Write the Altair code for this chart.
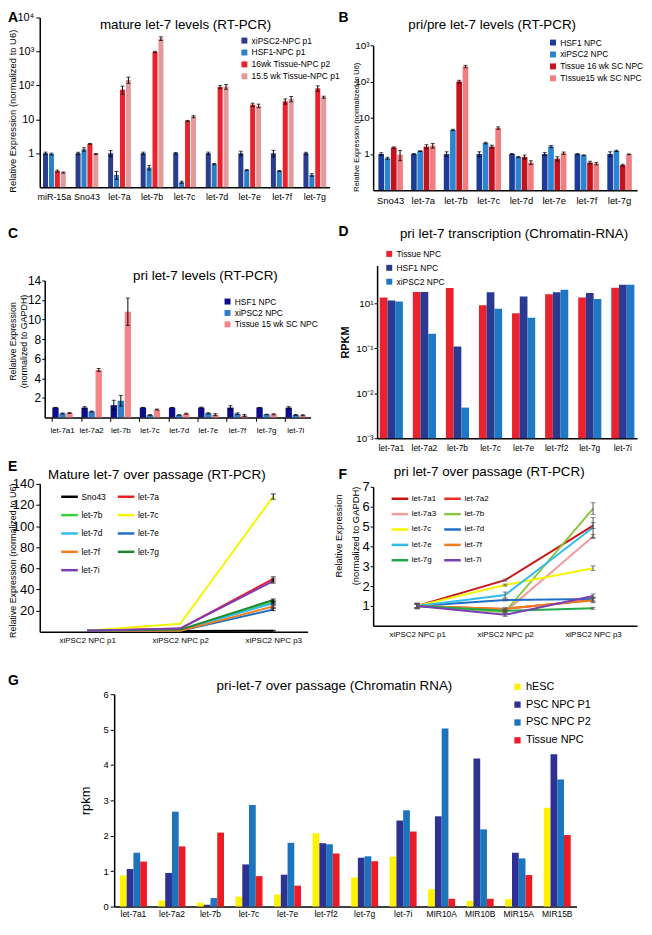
import altair as alt
import pandas as pd

FONT = "Liberation Sans"
ONE = pd.DataFrame({"k": [0]})
W, H = 634, 917  # whole drawing area; every panel is placed inside it by its scale ranges

# ---------------- Panel A : mature let-7 levels ----------------
A_CATS = ["miR-15a", "Sno43", "let-7a", "let-7b", "let-7c", "let-7d", "let-7e", "let-7f", "let-7g"]
A_SERIES = ["xiPSC2-NPC p1", "HSF1-NPC p1", "16wk Tissue-NPC p2", "15.5 wk Tissue-NPC p1"]
A_COLORS = ["#2b3d8f", "#2a7fc9", "#e8232d", "#e39a9b"]
A_XIPSC = [1.0, 1.0, 1.0, 1.0, 1.0, 1.0, 1.0, 1.0, 1.0]
A_HSF1 = [0.95, 1.3, 0.23, 0.38, 0.14, 0.48, 0.32, 0.30, 0.23]
A_16WK = [0.30, 1.9, 75, 970, 9.0, 90, 27, 34, 82]
A_155WK = [0.27, 0.95, 145, 2400, 12, 92, 25, 40, 45]
A_ERR_XIPSC = [0.08, 0.07, 0.2, 0.08, 0.05, 0.08, 0.15, 0.22, 0.07]
A_ERR_HSF1 = [0.06, 0.15, 0.06, 0.06, 0.01, 0.02, 0.01, 0.01, 0.02]
A_ERR_16WK = [0.02, 0.05, 20, 40, 0.3, 10, 3, 6, 15]
A_ERR_155WK = [0.01, 0.03, 30, 300, 0.8, 15, 3, 7, 3]
A_TICKS = [1, 10, 100, 1000, 10000]
A_TICK_LABELS = ["1", "10", "10²", "10³", "10⁴"]

# ---------------- Panel B : pri/pre let-7 levels ----------------
B_CATS = ["Sno43", "let-7a", "let-7b", "let-7c", "let-7d", "let-7e", "let-7f", "let-7g"]
B_SERIES = ["HSF1 NPC", "xiPSC2 NPC", "Tissue 16 wk SC NPC", "TIssue15 wk SC NPC"]
B_COLORS = ["#1d3c9a", "#2b85d3", "#c4121f", "#f27d80"]
B_HSF1 = [1.0, 1.0, 1.0, 1.0, 1.0, 1.0, 1.0, 1.0]
B_XIPSC = [0.76, 1.2, 4.6, 2.0, 0.82, 1.6, 0.92, 1.22]
B_T16 = [1.5, 1.6, 100, 1.6, 0.83, 0.74, 0.58, 0.49]
B_T15 = [0.95, 1.7, 260, 5.2, 0.58, 1.05, 0.54, 0.98]
B_ERR_HSF1 = [0.08, 0.02, 0.15, 0.15, 0.02, 0.1, 0.02, 0.15]
B_ERR_XIPSC = [0.05, 0.03, 0.2, 0.1, 0.03, 0.1, 0.02, 0.05]
B_ERR_T16 = [0.07, 0.2, 8, 0.15, 0.1, 0.1, 0.05, 0.03]
B_ERR_T15 = [0.3, 0.25, 20, 0.4, 0.07, 0.08, 0.04, 0.02]
B_TICKS = [1, 10, 100, 1000]
B_TICK_LABELS = ["1", "10", "10²", "10³"]

# ---------------- Panel C : pri let-7 levels ----------------
C_CATS = ["let-7a1", "let-7a2", "let-7b", "let-7c", "let-7d", "let-7e", "let-7f", "let-7g", "let-7i"]
C_SERIES = ["HSF1 NPC", "xiPSC2 NPC", "Tissue 15 wk SC NPC"]
C_COLORS = ["#0d0d8a", "#2f7dc6", "#f38487"]
C_HSF1 = [1.0, 1.0, 1.25, 1.0, 1.0, 1.0, 1.0, 1.0, 1.0]
C_XIPSC = [0.4, 0.6, 1.7, 0.25, 0.25, 0.42, 0.38, 0.3, 0.25]
C_T15 = [0.45, 4.85, 10.8, 0.8, 0.38, 0.28, 0.2, 0.32, 0.22]
C_ERR_HSF1 = [0.02, 0.1, 0.5, 0.02, 0.02, 0.05, 0.2, 0.02, 0.1]
C_ERR_XIPSC = [0.05, 0.05, 0.55, 0.03, 0.02, 0.05, 0.08, 0.02, 0.05]
C_ERR_T15 = [0.05, 0.15, 1.4, 0.05, 0.05, 0.1, 0.1, 0.05, 0.05]
C_TICKS = [2, 4, 6, 8, 10, 12, 14]

# ---------------- Panel D : pri let-7 transcription ----------------
D_CATS = ["let-7a1", "let-7a2", "let-7b", "let-7c", "let-7e", "let-7f2", "let-7g", "let-7i"]
D_SERIES = ["Tissue NPC", "HSF1 NPC", "xiPSC2 NPC"]
D_COLORS = ["#e8232d", "#2b3990", "#1f78c4"]
D_TISSUE = [1.34, 1.78, 2.18, 0.9, 0.6, 1.59, 1.34, 2.23]
D_HSF1 = [1.15, 1.78, 0.11, 1.75, 1.41, 1.75, 1.7, 2.6]
D_XIPSC = [1.1, 0.21, 0.0048, 0.76, 0.48, 2.0, 1.25, 2.6]
D_TICKS = [0.001, 0.01, 0.1, 1]
D_TICK_LABELS = ["10⁻³", "10⁻²", "10⁻¹", "10¹"]

# ---------------- Panel E : mature let-7 over passage ----------------
PASSES = ["xiPSC2 NPC p1", "xiPSC2 NPC p2", "xiPSC2 NPC p3"]
E_SERIES = ["Sno43", "let-7a", "let-7b", "let-7c", "let-7d", "let-7e", "let-7f", "let-7g", "let-7i"]
E_COLORS = ["#000000", "#ee1c24", "#3bcf3b", "#f5f500", "#33bbee", "#1f6fc4", "#f07d1e", "#1b8a2e", "#7b3fb5"]
E_VALUES = [
    [1, 0.6, 1],
    [1, 3, 50],
    [1, 1.5, 28],
    [1, 7.5, 128],
    [1, 1.5, 27],
    [1, 1, 21],
    [1, 0.8, 24],
    [1, 2, 30],
    [1, 3, 48],
]
E_ERR_P3 = [0.3, 2, 1, 2.5, 1, 1, 1, 1, 2]
E_TICKS = [20, 40, 60, 80, 100, 120, 140]

# ---------------- Panel F : pri let-7 over passage ----------------
F_SERIES = ["let-7a1", "let-7a2", "let-7a3", "let-7b", "let-7c", "let-7d", "let-7e", "let-7f", "let-7g", "let-7i"]
F_COLORS = ["#c81414", "#ee2b2b", "#f29b9b", "#8cc63f", "#f5f500", "#1f6fc4", "#33bbee", "#f07d1e", "#22aa4a", "#7b3fb5"]
F_VALUES = [
    [1, 2.3, 5.05],
    [1, 0.85, 1.3],
    [1, 0.7, 4.5],
    [1, 0.7, 5.9],
    [1, 2.05, 2.9],
    [1, 1.3, 1.35],
    [1, 1.55, 4.95],
    [1, 0.85, 1.28],
    [1, 0.75, 0.88],
    [1, 0.55, 1.5],
]
F_ERR = [
    [0.12, 0.05, 0.15],
    [0.1, 0.05, 0.1],
    [0.15, 0.05, 0.1],
    [0.1, 0.05, 0.3],
    [0.1, 0.05, 0.12],
    [0.1, 0.05, 0.1],
    [0.1, 0.15, 0.5],
    [0.1, 0.05, 0.12],
    [0.1, 0.05, 0.05],
    [0.1, 0.08, 0.1],
]
F_TICKS = [1, 2, 3, 4, 5, 6, 7]

# ---------------- Panel G : pri-let-7 over passage (Chromatin RNA) ----------------
G_CATS = ["let-7a1", "let-7a2", "let-7b", "let-7c", "let-7e", "let-7f2", "let-7g", "let-7i",
          "MIR10A", "MIR10B", "MIR15A", "MIR15B"]
G_SERIES = ["hESC", "PSC NPC P1", "PSC NPC P2", "Tissue NPC"]
G_COLORS = ["#fff200", "#2e3192", "#1c75bc", "#ed1c24"]
G_HESC = [0.88, 0.17, 0.11, 0.28, 0.34, 2.07, 0.82, 1.41, 0.49, 0.16, 0.21, 2.79]
G_P1 = [1.06, 0.95, 0.05, 1.19, 0.9, 1.79, 1.38, 2.43, 2.55, 4.18, 1.52, 4.3]
G_P2 = [1.52, 2.68, 0.24, 2.87, 1.8, 1.76, 1.42, 2.72, 5.03, 2.18, 1.36, 3.59]
G_TISSUE = [1.27, 1.7, 2.09, 0.86, 0.59, 1.5, 1.28, 2.12, 0.22, 0.22, 0.89, 2.02]
G_TICKS = [0, 1, 2, 3, 4, 5, 6]


# ---------------- helpers ----------------
def label_expr(vals, labels):
    parts = [f"abs(datum.value - {v}) < {v / 1000.0 + 1e-9} ? '{l}'" for v, l in zip(vals, labels)]
    return " : ".join(parts) + " : ''"


def bar_df(cats, series, values, errs=None):
    rows = []
    for i, s in enumerate(series):
        for j, c in enumerate(cats):
            v = values[i][j]
            e = errs[i][j] if errs else 0.0
            rows.append({"cat": c, "series": s, "value": v, "lo": v - e, "hi": v + e})
    return pd.DataFrame(rows)


def line_df(series, values, errs):
    rows = []
    for i, s in enumerate(series):
        for j, p in enumerate(PASSES):
            v = values[i][j]
            e = errs[i][j]
            rows.append({"pass": p, "series": s, "value": v, "lo": v - e, "hi": v + e, "err": e})
    return pd.DataFrame(rows)


def annot(text, x, y, size, weight="normal", align="center", baseline="middle"):
    return alt.Chart(ONE).mark_text(
        text=text, font=FONT, fontSize=size, fontWeight=weight, align=align,
        baseline=baseline, color="black"
    ).encode(x=alt.value(x), y=alt.value(y))


def letter(t, x, y):
    return annot(t, x, y, 14, "bold", "left", "top")


def sq_legend(x, y, font=8.5, row_pad=2, sym=36):
    return alt.Legend(title=None, orient="none", legendX=x, legendY=y, symbolType="square",
                      symbolSize=sym, symbolStrokeWidth=0, labelFontSize=font, labelFont=FONT,
                      rowPadding=row_pad, labelLimit=300, padding=0, labelOffset=3)


def line_legend(x, y, font, row_pad, col_pad):
    return alt.Legend(title=None, orient="none", legendX=x, legendY=y, columns=2,
                      symbolType="stroke", symbolSize=280, symbolStrokeWidth=2.5,
                      labelFontSize=font, labelFont=FONT, rowPadding=row_pad,
                      columnPadding=col_pad, padding=0, labelOffset=2)


def y_axis(x0, title, title_x, title_y, values, label_size=12, title_size=9.5, lexpr=None,
           title_weight="normal", line_height=13, tick_size=4, label_pad=2):
    kw = dict(orient="left", offset=-x0, values=values, title=title, titleFontSize=title_size,
              titleFontWeight=title_weight, titleFont=FONT, titleX=title_x, titleY=title_y,
              titleAngle=-90, titleAlign="center", titleBaseline="middle",
              titleLineHeight=line_height, labelFontSize=label_size, labelFont=FONT,
              tickSize=tick_size, domainWidth=1.5, labelPadding=label_pad, grid=False)
    if lexpr:
        kw["labelExpr"] = lexpr
    return alt.Axis(**kw)


def x_axis(y_bottom, label_size, ticks=False, pad=5):
    return alt.Axis(orient="bottom", offset=y_bottom - H, labelAngle=0, labelFontSize=label_size,
                    labelFont=FONT, ticks=ticks, bandPosition=0, tickSize=4, domainWidth=1.5,
                    labelPadding=pad, title=None, grid=False)


def bar_panel(df, cats, series, colors, xr, yscale, yaxis, legend, y_bottom,
              x_pi=0.3, x_po=0.15, x_align=0.5, off_pi=0.1, base=None, err=True,
              xlabel_size=9, xticks=False, xpad=5):
    xenc = alt.X("cat:N", sort=cats, axis=x_axis(y_bottom, xlabel_size, xticks, xpad),
                 scale=alt.Scale(range=list(xr), paddingInner=x_pi, paddingOuter=x_po,
                                 align=x_align))
    off = alt.XOffset("series:N", sort=series, scale=alt.Scale(paddingInner=off_pi))
    color = alt.Color("series:N", sort=series, legend=legend,
                      scale=alt.Scale(domain=series, range=colors))
    enc = dict(x=xenc, xOffset=off, y=alt.Y("value:Q", scale=yscale, axis=yaxis), color=color)
    if base is not None:
        enc["y2"] = alt.datum(base)
    layers = [alt.Chart(df).mark_bar().encode(**enc)]
    if err:
        edf = df[df["hi"] > df["lo"]]
        layers.append(alt.Chart(edf).mark_rule(color="black", strokeWidth=1).encode(
            x=xenc, xOffset=off, y=alt.Y("lo:Q", scale=yscale, axis=yaxis), y2="hi:Q"))
        layers.append(alt.Chart(edf).mark_tick(color="black", thickness=1, size=4).encode(
            x=xenc, xOffset=off, y=alt.Y("hi:Q", scale=yscale, axis=yaxis)))
        layers.append(alt.Chart(edf).mark_tick(color="black", thickness=1, size=4).encode(
            x=xenc, xOffset=off, y=alt.Y("lo:Q", scale=yscale, axis=yaxis)))
    return alt.layer(*layers)


def col_major(items):
    # a two-column legend fills its columns top to bottom; this order shows the entries row by row
    return items[0::2] + items[1::2]


def line_panel(df, series, colors, xr, yscale, yaxis, legend, y_bottom, pad, align, err_color):
    xenc = alt.X("pass:N", sort=PASSES,
                 scale=alt.Scale(type="point", range=list(xr), padding=pad, align=align),
                 axis=x_axis(y_bottom, 8))
    color = alt.Color("series:N", legend=legend,
                      scale=alt.Scale(domain=col_major(series), range=col_major(colors)))
    lines = alt.Chart(df).mark_line(strokeWidth=2).encode(
        x=xenc, y=alt.Y("value:Q", scale=yscale, axis=yaxis), color=color)
    edf = df[df["err"] > 0]
    rules = alt.Chart(edf).mark_rule(color=err_color, strokeWidth=1).encode(
        x=xenc, y=alt.Y("lo:Q", scale=yscale, axis=yaxis), y2="hi:Q")
    caps_hi = alt.Chart(edf).mark_tick(color=err_color, thickness=1, size=5).encode(
        x=xenc, y=alt.Y("hi:Q", scale=yscale, axis=yaxis))
    caps_lo = alt.Chart(edf).mark_tick(color=err_color, thickness=1, size=5).encode(
        x=xenc, y=alt.Y("lo:Q", scale=yscale, axis=yaxis))
    return alt.layer(lines, rules, caps_hi, caps_lo)


# ---------------- panels (pixel boxes inside the drawing area) ----------------
# A
A_X, A_Y = (32, 324), (177, 6)
dfA = bar_df(A_CATS, A_SERIES, [A_XIPSC, A_HSF1, A_16WK, A_155WK],
             [A_ERR_XIPSC, A_ERR_HSF1, A_ERR_16WK, A_ERR_155WK])
panelA = bar_panel(
    dfA, A_CATS, A_SERIES, A_COLORS, A_X,
    alt.Scale(type="log", domain=[0.1, 10000], nice=False, range=list(A_Y)),
    y_axis(A_X[0], "Relative Expression (normalized to U6)", -27, 100, A_TICKS, label_size=11,
           lexpr=label_expr(A_TICKS, A_TICK_LABELS)),
    sq_legend(234, 25, font=8.5, row_pad=3), A_Y[0],
    x_pi=0.3, x_po=0.1, off_pi=0.15, base=0.1, xlabel_size=9)

# B
B_X, B_Y = (368, 634), (180, 34)
dfB = bar_df(B_CATS, B_SERIES, [B_HSF1, B_XIPSC, B_T16, B_T15],
             [B_ERR_HSF1, B_ERR_XIPSC, B_ERR_T16, B_ERR_T15])
panelB = bar_panel(
    dfB, B_CATS, B_SERIES, B_COLORS, B_X,
    alt.Scale(type="log", domain=[0.1, 1000], nice=False, range=list(B_Y)),
    y_axis(B_X[0], "Relative Expression (normalized to U6)", -17, 116, B_TICKS, label_size=10,
           title_size=7.5, lexpr=label_expr(B_TICKS, B_TICK_LABELS), tick_size=3, label_pad=1),
    sq_legend(545, 27, font=8.5, row_pad=3), B_Y[0],
    x_pi=0.25, x_po=0.16, off_pi=0.1, base=0.1, xlabel_size=9.5)

# C
C_X, C_Y = (37, 305), (409, 271)
dfC = bar_df(C_CATS, C_SERIES, [C_HSF1, C_XIPSC, C_T15], [C_ERR_HSF1, C_ERR_XIPSC, C_ERR_T15])
panelC = bar_panel(
    dfC, C_CATS, C_SERIES, C_COLORS, C_X,
    alt.Scale(domain=[0, 14], nice=False, zero=True, range=list(C_Y)),
    y_axis(C_X[0], ["Relative Expression", "(normalized to GAPDH)"], -32, 332, C_TICKS,
           label_size=12, title_size=9, line_height=11, tick_size=3, label_pad=1),
    sq_legend(217, 288, font=8.5, row_pad=2.5), C_Y[0],
    x_pi=0.3, x_po=0.21, x_align=0.62, off_pi=0.1, xlabel_size=8, xticks=True)

# D
D_X, D_Y = (372, 634), (430, 256)
dfD = bar_df(D_CATS, D_SERIES, [D_TISSUE, D_HSF1, D_XIPSC])
panelD = bar_panel(
    dfD, D_CATS, D_SERIES, D_COLORS, D_X,
    alt.Scale(type="log", domain=[0.001, 6.9], nice=False, range=list(D_Y)),
    y_axis(D_X[0], "RPKM", -32, 333, D_TICKS, label_size=10, title_size=11,
           title_weight="bold", lexpr=label_expr(D_TICKS, D_TICK_LABELS), tick_size=3,
           label_pad=1),
    sq_legend(380, 240, font=8.5, row_pad=5), D_Y[0],
    x_pi=0.3, x_po=0.08, off_pi=0.0, base=0.001, err=False, xlabel_size=8.5)

# E
E_X, E_Y = (32, 302), (625, 476)
E_ERRS = [[0, 0, e] for e in E_ERR_P3]
dfE = line_df(E_SERIES, E_VALUES, E_ERRS)
panelE = line_panel(
    dfE, E_SERIES, E_COLORS, E_X,
    alt.Scale(domain=[0, 140], nice=False, zero=True, range=list(E_Y)),
    y_axis(E_X[0], "Relative Expression (normalized to U6)", -27, 553, E_TICKS, label_size=13,
           title_size=9),
    line_legend(52, 479, 8.5, 3.5, 6), E_Y[0], 0.44, 0.58, "black")

# F
F_X, F_Y = (368, 634), (619, 479)
dfF = line_df(F_SERIES, F_VALUES, F_ERR)
panelF = line_panel(
    dfF, F_SERIES, F_COLORS, F_X,
    alt.Scale(domain=[0, 7], nice=False, zero=True, range=list(F_Y)),
    y_axis(F_X[0], ["Relative Expression", "(normalized to GAPDH)"], -35, 528, F_TICKS,
           label_size=13, title_size=9.5, line_height=17, tick_size=3, label_pad=1),
    line_legend(385, 481, 8, 0.5, 2), F_Y[0], 0.5, 0.5, "#555555")

# G
G_X, G_Y = (107, 573), (902, 688)
dfG = bar_df(G_CATS, G_SERIES, [G_HESC, G_P1, G_P2, G_TISSUE])
panelG = bar_panel(
    dfG, G_CATS, G_SERIES, G_COLORS, G_X,
    alt.Scale(domain=[0, 6], nice=False, zero=True, range=list(G_Y)),
    y_axis(G_X[0], "rpkm", -29, 795, G_TICKS, label_size=9.5, title_size=13),
    sq_legend(508, 675, font=11, row_pad=6, sym=40), G_Y[0],
    x_pi=0.3, x_po=0.15, off_pi=0.0, err=False, xlabel_size=8.5, xpad=3)

# ---------------- panel letters and titles ----------------
annots = [
    letter("A", 0, 0), annot("mature let-7 levels (RT-PCR)", 179, 14, 13.5),
    letter("B", 333, 0), annot("pri/pre let-7 levels (RT-PCR)", 488, 14, 13.5),
    letter("C", 0, 217), annot("pri let-7 levels (RT-PCR)", 199, 267, 13.5),
    letter("D", 333, 215), annot("pri let-7 transcription (Chromatin-RNA)", 510, 224, 13.5),
    letter("E", 0, 452), annot("Mature let-7 over passage (RT-PCR)", 150, 467, 13.5),
    letter("F", 333, 460), annot("pri let-7 over passage (RT-PCR)", 485, 464, 13.5),
    letter("G", 0, 668), annot("pri-let-7 over passage (Chromatin RNA)", 329, 680, 13.5),
]

chart = alt.layer(panelA, panelB, panelC, panelD, panelE, panelF, panelG, *annots).resolve_scale(
    x="independent", y="independent", color="independent", xOffset="independent"
).resolve_axis(x="independent", y="independent").resolve_legend(color="independent").properties(
    width=W, height=H, padding=0
).configure_view(stroke=None).configure_axis(
    domainColor="black", tickColor="black", labelColor="black", titleColor="black", grid=False
).configure_legend(labelColor="black")

chart.save("out.html", embed_options={"renderer": "svg", "actions": False})
